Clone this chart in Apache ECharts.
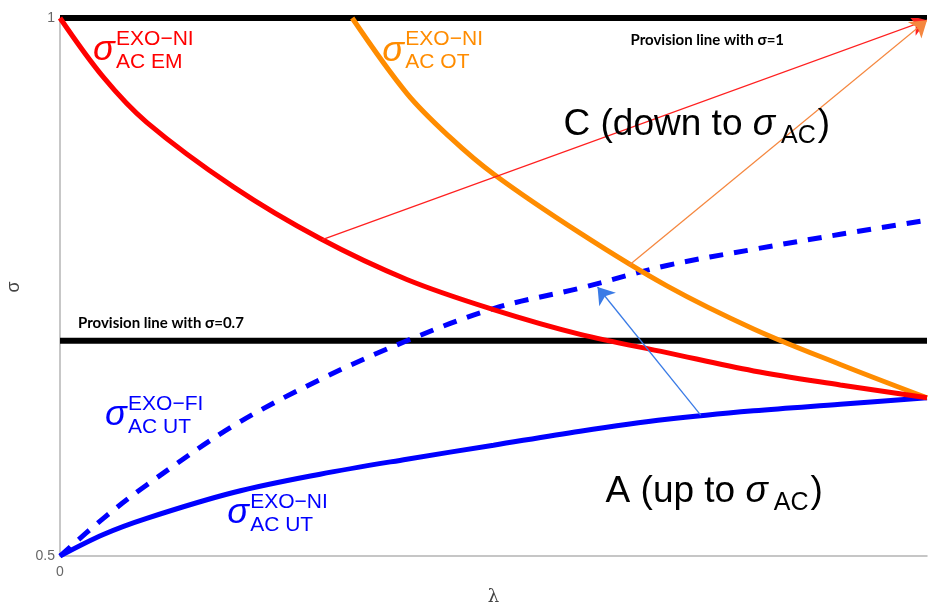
<!DOCTYPE html>
<html><head><meta charset="utf-8">
<script src="https://cdn.jsdelivr.net/npm/echarts@6/dist/echarts.min.js"></script>
<style>html,body{margin:0;padding:0;background:#fff}#c{width:928px;height:609px}</style>
</head><body><div id="c"></div>
<script>
// ---------- data ----------
const lambdaGrid = [0, 0.05, 0.1, 0.2, 0.3, 0.4, 0.5, 0.6, 0.7, 0.8, 0.9, 1.0];
const sigmaEM    = [1.0, 0.945, 0.903, 0.843, 0.795, 0.757, 0.729, 0.706, 0.689, 0.672, 0.659, 0.647];
const sigmaFI    = [0.5, 0.535, 0.566, 0.621, 0.664, 0.700, 0.730, 0.749, 0.770, 0.785, 0.799, 0.812];
const sigmaNI    = [0.5, 0.520, 0.535, 0.559, 0.576, 0.590, 0.603, 0.616, 0.627, 0.635, 0.641, 0.647];
const lambdaOT   = [0.337, 0.4, 0.45, 0.5, 0.6, 0.7, 0.8, 0.9, 1.0];
const sigmaOT    = [1.0, 0.930, 0.889, 0.855, 0.800, 0.751, 0.711, 0.678, 0.647];

const provisionLevels = [1, 0.7];
const provisionTexts  = ['Provision line with σ=1', 'Provision line with σ=0.7'];
const provisionTextAt = [[0.658, 0.975], [0.0208, 0.712]];

const arrowFrom = [[0.3025, 0.794], [0.656, 0.770], [0.739, 0.631]];
const arrowTo   = [[1.0, 0.998], [1.0, 0.998], [0.620, 0.750]];

const curveLabelSup = ['EXO−NI', 'EXO−NI', 'EXO−FI', 'EXO−NI'];
const curveLabelSub = ['AC EM', 'AC OT', 'AC UT', 'AC UT'];
const curveLabelAt  = [[0.0381, 0.9591], [0.3718, 0.9582], [0.0520, 0.6190], [0.1928, 0.5288]];

const regionPrefix = ['C (down to ', 'A (up to '];
const regionAt     = [[0.5808, 0.8885], [0.6293, 0.5474]];

const xTicks = ['0'];
const yTicks = ['0.5', '1'];

// ---------- styles ----------
const RED = '#ff0000', ORANGE = '#ff8c00', BLUE = '#0000ff';
const curveLabelColors = [RED, ORANGE, BLUE, BLUE];
const arrowColors = ['#ff2020', '#f5873f', '#3a7be6'];
const FAM = '"Liberation Sans", Arial, sans-serif';

const mctx = document.createElement('canvas').getContext('2d');
function fontStr(size, italic, bold, fam) {
  return (italic ? 'italic ' : 'normal ') + (bold ? 'bold ' : 'normal ') + size + 'px ' + (fam || FAM);
}
function measure(t, f) { mctx.font = f; return mctx.measureText(t).width; }
function txt(text, x, baseline, size, color, italic, bold, fam) {
  const f = fontStr(size, italic, bold, fam);
  return { el: { type: 'text', silent: true, style: { text: text, x: x, y: baseline - 0.347 * size,
    font: f, fill: color, align: 'left', verticalAlign: 'middle' } }, w: measure(text, f) };
}

const chart = echarts.init(document.getElementById('c'), null, { renderer: 'canvas' });

const annotationData = [];
curveLabelAt.forEach((p, i) => annotationData.push([p[0], p[1], 0, i]));
regionAt.forEach((p, i) => annotationData.push([p[0], p[1], 1, i]));
provisionTextAt.forEach((p, i) => annotationData.push([p[0], p[1], 2, i]));

function renderAnnotation(params, api) {
  const kind = api.value(2), i = api.value(3);
  const p = api.coord([api.value(0), api.value(1)]);
  const children = [];
  if (kind === 0) {
    const c = curveLabelColors[i];
    children.push(txt('σ', p[0], p[1], 36, c, true).el);
    children.push(txt(curveLabelSup[i], p[0] + 23, p[1] - 16, 21, c).el);
    children.push(txt(curveLabelSub[i], p[0] + 23, p[1] + 7, 21, c).el);
  } else if (kind === 1) {
    let x = p[0];
    const a = txt(regionPrefix[i], x, p[1], 37, '#000'); children.push(a.el); x += a.w;
    const s = txt('σ', x, p[1], 37, '#000', true); children.push(s.el); x += s.w + 6;
    const b = txt('AC', x, p[1] + 7, 25, '#000'); children.push(b.el); x += b.w + 2;
    children.push(txt(')', x, p[1], 37, '#000').el);
  } else {
    children.push(txt(provisionTexts[i], p[0], p[1], 15, '#000', false, true, 'Lato, "Open Sans", sans-serif').el);
  }
  return { type: 'group', children: children };
}

const option = {
  animation: false,
  backgroundColor: '#fff',
  grid: { left: 60, right: 1, top: 18, bottom: 53, containLabel: false, outerBoundsMode: 'none' },
  xAxis: {
    type: 'value', min: 0, max: 1, interval: 1,
    name: 'λ', nameLocation: 'middle', nameGap: 32,
    nameTextStyle: { color: '#444', fontSize: 18, fontFamily: '"DejaVu Serif", serif' },
    axisLine: { lineStyle: { color: '#b4b4b4', width: 1.5 } },
    axisTick: { show: false }, splitLine: { show: false },
    axisLabel: { color: '#666', fontSize: 14, margin: 9, fontFamily: FAM,
      formatter: v => (v === 0 ? xTicks[0] : '') }
  },
  yAxis: {
    type: 'value', min: 0.5, max: 1, interval: 0.5,
    name: 'σ', nameLocation: 'middle', nameGap: 37, nameRotate: 90,
    nameTextStyle: { color: '#444', fontSize: 18, fontFamily: FAM },
    axisLine: { show: true, lineStyle: { color: '#b4b4b4', width: 1.5 } },
    axisTick: { show: false }, splitLine: { show: false },
    axisLabel: { color: '#666', fontSize: 14, margin: 5, fontFamily: FAM,
      formatter: v => (v === 0.5 ? yTicks[0] : yTicks[1]) }
  },
  series: [
    ...provisionLevels.map(l => ({
      type: 'line', symbol: 'none', silent: true, z: 2,
      data: [[0, l], [1, l]],
      lineStyle: { color: '#000', width: 6 }
    })),
    { type: 'line', symbol: 'none', smooth: 0.35, z: 3,
      data: lambdaGrid.map((x, i) => [x, sigmaFI[i]]),
      lineStyle: { color: BLUE, width: 5, type: [14, 11] } },
    { type: 'line', symbol: 'none', smooth: 0.35, z: 3,
      data: lambdaGrid.map((x, i) => [x, sigmaNI[i]]),
      lineStyle: { color: BLUE, width: 5 } },
    { type: 'line', symbol: 'none', smooth: 0.35, z: 3,
      data: lambdaOT.map((x, i) => [x, sigmaOT[i]]),
      lineStyle: { color: ORANGE, width: 5 } },
    { type: 'line', symbol: 'none', smooth: 0.35, z: 3,
      data: lambdaGrid.map((x, i) => [x, sigmaEM[i]]),
      lineStyle: { color: RED, width: 5 } },
    { type: 'lines', coordinateSystem: 'cartesian2d', z: 4, silent: true,
      symbol: ['none', 'arrow'], symbolSize: 16,
      data: arrowFrom.map((f, i) => ({
        coords: [f, arrowTo[i]],
        lineStyle: { color: arrowColors[i], width: 1.3, opacity: 1 }
      })) },
    { type: 'custom', renderItem: renderAnnotation, data: annotationData, z: 5,
      clip: false, silent: true, encode: { x: 0, y: 1 } }
  ]
};
chart.setOption(option);
</script>
</body></html>
